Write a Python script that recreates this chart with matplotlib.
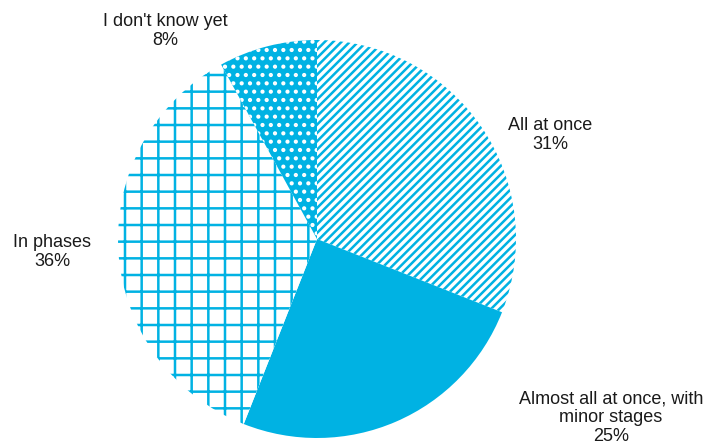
import matplotlib
matplotlib.use("Agg")
import matplotlib.pyplot as plt

# Survey answers: how the migration will be carried out
categories = ["All at once", "Almost all at once, with\nminor stages", "In phases", "I don't know yet"]
shares = [31, 25, 36, 8]
hatches = ["////", None, "+", ".."]

BLUE = "#00B2E3"

plt.rcParams["font.family"] = ["Liberation Sans", "DejaVu Sans"]
plt.rcParams["hatch.linewidth"] = 1.8

fig = plt.figure(figsize=(7.12, 4.48), dpi=100)
ax = fig.add_axes([0, 0, 1, 1])

wedges, _ = ax.pie(shares, startangle=90, counterclock=False,
                   center=(317, 209), radius=199,
                   wedgeprops=dict(linewidth=0))
ax.set_xlim(0, 712)
ax.set_ylim(0, 448)
ax.set_aspect("equal")
ax.axis("off")

for w, h in zip(wedges, hatches):
    if h is None:
        w.set_facecolor(BLUE)
        w.set_edgecolor(BLUE)
    elif h == "..":
        w.set_facecolor(BLUE)
        w.set_edgecolor("white")
        w.set_hatch(h)
    else:
        w.set_facecolor("white")
        w.set_edgecolor(BLUE)
        w.set_hatch(h)
    w.set_linewidth(0)

label_pos = [(550, 313, "center"), (611, 57, "top"), (52, 196, "center"), (165, 417, "center")]
for cat, val, (x, y, va) in zip(categories, shares, label_pos):
    ax.text(x, y, f"{cat}\n{val}%", ha="center", va=va, multialignment="center",
            fontsize=13, color="#1a1a1a", linespacing=1.1)

fig.savefig("out.png", dpi=100)
